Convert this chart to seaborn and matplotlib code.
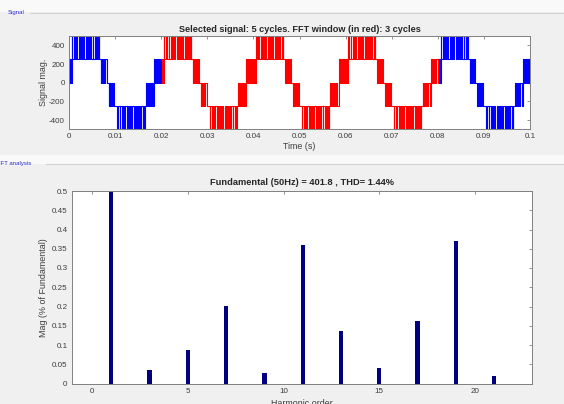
#tratamiento de datos
import pandas as pd
import numpy as np

#visualizaciones
import seaborn as sns
import matplotlib.pyplot as plt
from matplotlib.lines import Line2D
from matplotlib.patches import Rectangle


# --- señal: un ciclo de 20 ms (tiempos en ms) ---
period_ms = 20.0
n_cycles = 5
fft_start_s = 0.02
fft_end_s = 0.08

# nivel de reposo y nivel del pulso de cada banda del escalón
band_rest = [0, 250, 0, -250, -250, -250, 0]
band_pulse = [250, 500, 250, 0, -500, 0, 250]

pulse_band = [0, 0,
              1, 1, 1, 1, 1, 1, 1, 1, 1, 1, 1, 1, 1,
              2, 2, 2, 2, 2,
              3, 3, 3, 3, 3,
              4, 4, 4, 4, 4, 4, 4, 4, 4, 4, 4, 4, 4,
              5, 5, 5, 5, 5,
              6, 6, 6, 6, 6]
pulse_on_ms = [0.05, 0.30,
               0.60, 1.10, 1.60, 2.10, 2.60, 3.10, 3.60, 4.10, 4.60, 5.10, 5.60, 6.10, 6.40,
               6.70, 7.00, 7.30, 7.60, 7.90,
               8.40, 8.70, 9.00, 9.30, 9.60,
               10.50, 11.00, 11.50, 12.00, 12.50, 13.00, 13.50, 14.00, 14.50, 15.00, 15.50, 16.00,
               16.30,
               16.70, 17.00, 17.30, 17.60, 17.90,
               18.50, 18.80, 19.10, 19.40, 19.70]
pulse_off_ms = [0.20, 0.42,
                0.70, 1.26, 1.80, 2.32, 2.84, 3.35, 3.85, 4.34, 4.82, 5.30, 5.76, 6.20, 6.48,
                6.88, 7.18, 7.48, 7.78, 8.15,
                8.58, 8.88, 9.18, 9.48, 9.85,
                10.60, 11.16, 11.70, 12.22, 12.74, 13.25, 13.75, 14.24, 14.72, 15.20, 15.66, 16.10,
                16.38,
                16.88, 17.18, 17.48, 17.78, 18.20,
                18.68, 18.98, 19.28, 19.58, 19.95]

# --- análisis FFT ---
harm_order = [1, 3, 5, 7, 9, 11, 13, 15, 17, 19, 21]
harm_mag = [100.0, 0.034, 0.087, 0.201, 0.026, 0.360, 0.136, 0.039, 0.162, 0.370, 0.019]

time_ticks = [0, 0.01, 0.02, 0.03, 0.04, 0.05, 0.06, 0.07, 0.08, 0.09, 0.1]
time_labels = ['0', '0.01', '0.02', '0.03', '0.04', '0.05', '0.06', '0.07', '0.08', '0.09', '0.1']
sig_ticks = [-400, -200, 0, 200, 400]
mag_ticks = [0, 0.05, 0.1, 0.15, 0.2, 0.25, 0.3, 0.35, 0.4, 0.45, 0.5]
mag_labels = ['0', '0.05', '0.1', '0.15', '0.2', '0.25', '0.3', '0.35', '0.4', '0.45', '0.5']
order_ticks = [0, 5, 10, 15, 20]


# construir la señal escalonada (pares tiempo / nivel)
t_pts = [0.0]
v_pts = [0]
for k in range(n_cycles):
    for b, t_on, t_off in zip(pulse_band, pulse_on_ms, pulse_off_ms):
        t_pts += [k * period_ms + t_on, k * period_ms + t_off]
        v_pts += [band_pulse[b], band_rest[b]]
t_pts.append(n_cycles * period_ms)
v_pts.append(v_pts[-1])

df_sig = pd.DataFrame({'time': np.array(t_pts) / 1000.0, 'level': v_pts})
df_sig['window'] = np.where((df_sig['time'] >= fft_start_s) & (df_sig['time'] < fft_end_s),
                            'fft', 'sel')
df_sig['seg'] = np.select([df_sig['time'] < fft_start_s, df_sig['time'] < fft_end_s], [0, 1], 2)

df_fft = pd.DataFrame({'order': harm_order, 'mag': harm_mag})


# estilo
sns.set_style('white')
plt.rcParams['font.family'] = ['Liberation Sans', 'DejaVu Sans']
plt.rcParams['axes.unicode_minus'] = False

gray_txt = '#3c3c3c'
edge = '#808080'

fig = plt.figure(figsize=(5.64, 4.04), dpi=100)
fig.patch.set_facecolor('#f0f0f0')

W, H = 564.0, 404.0

# franjas de cabecera de los paneles
fig.add_artist(Rectangle((0, 1 - 12 / H), 1, 12 / H, transform=fig.transFigure,
                         facecolor='#f9f9f9', edgecolor='none', zorder=0))
fig.add_artist(Rectangle((0, 1 - 164 / H), 1, 9 / H, transform=fig.transFigure,
                         facecolor='#f9f9f9', edgecolor='none', zorder=0))
fig.add_artist(Line2D([30 / W, 1], [1 - 12.5 / H] * 2, transform=fig.transFigure,
                      color='#d4d4d4', lw=0.8))
fig.add_artist(Line2D([46 / W, 1], [1 - 163.5 / H] * 2, transform=fig.transFigure,
                      color='#d4d4d4', lw=0.8))
fig.text(8 / W, 1 - 12.5 / H, 'Signal', fontsize=4.3, color='#2a2ad0', va='center')
fig.text(-3 / W, 1 - 164 / H, 'FFT analysis', fontsize=4.3, color='#2a2ad0', va='center')

# panel superior: señal
ax1 = fig.add_axes([69 / W, 1 - 128.5 / H, 461 / W, 92.5 / H])
sns.lineplot(data=df_sig, x='time', y='level', hue='window', units='seg',
             estimator=None, sort=False, palette={'sel': '#0000ff', 'fft': '#ff0000'},
             drawstyle='steps-post', lw=0.8, legend=False, ax=ax1)
ax1.set_xlim(0, 0.1)
ax1.set_ylim(-490, 500)
ax1.set_xticks(time_ticks)
ax1.set_xticklabels(time_labels)
ax1.set_yticks(sig_ticks)
ax1.set_title('Selected signal: 5 cycles. FFT window (in red): 3 cycles',
              fontsize=6.6, fontweight='bold', pad=3)
ax1.set_xlabel('Time (s)', fontsize=6.4, color=gray_txt, labelpad=2)
ax1.set_ylabel('Signal mag.', fontsize=6.4, color=gray_txt, labelpad=1)

# panel inferior: espectro
ax2 = fig.add_axes([71.7 / W, 1 - 383.5 / H, 460.6 / W, 192.5 / H])
sns.barplot(data=df_fft, x='order', y='mag', native_scale=True, width=0.11,
            color='#000080', saturation=1, linewidth=0, errorbar=None, ax=ax2)
ax2.set_xlim(-1.07, 23)
ax2.set_ylim(0, 0.5)
ax2.set_xticks(order_ticks)
ax2.set_xticklabels([str(o) for o in order_ticks])
ax2.set_yticks(mag_ticks)
ax2.set_yticklabels(mag_labels)
ax2.set_title('Fundamental (50Hz) = 401.8 , THD= 1.44%',
              fontsize=6.7, fontweight='bold', pad=4)
ax2.set_xlabel('Harmonic order', fontsize=6.4, color=gray_txt, labelpad=3)
ax2.set_ylabel('Mag (% of Fundamental)', fontsize=6.4, color=gray_txt, labelpad=3)

for ax in (ax1, ax2):
    ax.set_facecolor('white')
    ax.tick_params(direction='in', length=2.5, width=0.6, colors=edge,
                   labelcolor=gray_txt, labelsize=5.8, top=True, right=True, pad=3)
    for sp in ax.spines.values():
        sp.set_color(edge)
        sp.set_linewidth(0.7)

plt.savefig('out.png', dpi=100, facecolor=fig.get_facecolor())
